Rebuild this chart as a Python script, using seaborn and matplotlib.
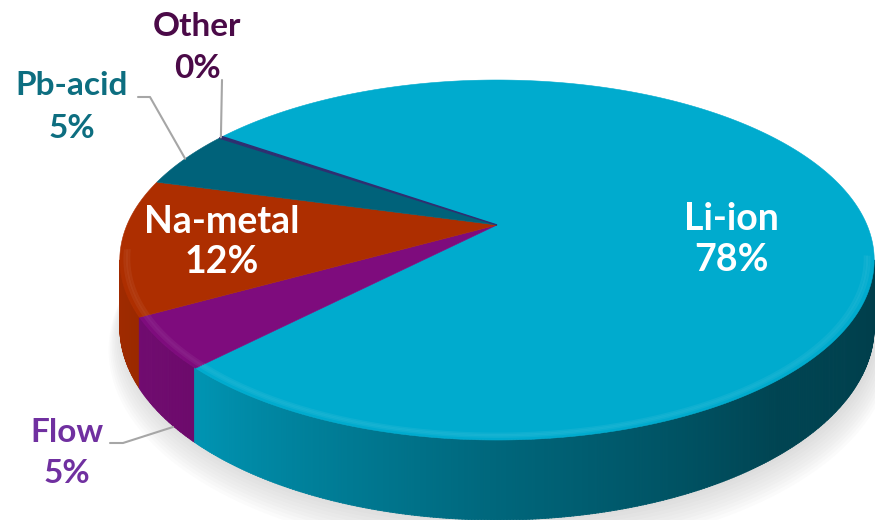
import numpy as np
import matplotlib
matplotlib.use("Agg")
import matplotlib.pyplot as plt
from matplotlib.collections import PolyCollection
from matplotlib.colors import to_rgb
import seaborn as sns

# ---- data (clockwise from the "Other"/"Li-ion" boundary) ----
categories = ["Li-ion", "Flow", "Na-metal", "Pb-acid", "Other"]
shares = [77.8, 4.6, 12.2, 5.2, 0.2]
top_colors = ["#00ABCE", "#7E0C7D", "#AD2E00", "#00627A", "#2E2F70"]
label_colors = ["#FFFFFF", "#7030A0", "#FFFFFF", "#0D6E80", "#4B0A48"]

sns.set_theme(style="white")
plt.rcParams["font.family"] = ["Lato", "DejaVu Sans"]

# ---- projection of a tilted disc (perspective) ----
CX, CY = 497, 225
A, B, K, E = 370.0, 173.2, 0.1945, 64.4
START = 145.5


def proj(theta_deg, r=1.0, z=0.0):
    t = np.radians(theta_deg)
    w = 1 + K * r * np.sin(t)
    X = A * r * np.cos(t) / w
    Y = (B * r * np.sin(t) + E * z) / w
    return CX + X, CY - Y


vals = np.array(shares, dtype=float)
spans = vals / vals.sum() * 360.0
cum = np.cumsum(spans)
ends = START - cum
starts = ends + spans

fig = plt.figure(figsize=(8.75, 5.2), dpi=100)
ax = fig.add_axes([0, 0, 1, 1])
ax.set_xlim(0, 875)
ax.set_ylim(520, 0)
ax.axis("off")

# ---- soft shadow ----
th_all = np.linspace(0, 360, 400)
for j in range(10):
    xs, ys = proj(th_all, 1.0 + 0.004 * j, -1.0 - 0.03 * j)
    ax.fill(xs + 3, ys + 2, color="#9A9A9A", alpha=0.035, lw=0, zorder=1)

# ---- side wall ----
th_left = 180 + np.degrees(np.arcsin(K))
th_right = 360 - np.degrees(np.arcsin(K))
grid = np.arange(th_left, th_right, 0.4)
shade_t = [191, 227, 270, 310, 349]
shade_f = [0.93, 0.86, 0.60, 0.40, 0.36]
polys, cols = [], []
for t0 in grid:
    t1 = min(t0 + 0.45, th_right)
    tm = (t0 + t1) / 2
    p = (START - tm) % 360
    idx = int(np.searchsorted(cum, p))
    idx = min(idx, len(categories) - 1)
    f = np.interp(tm, shade_t, shade_f)
    c = np.array(to_rgb(top_colors[idx])) * f
    x0, y0 = proj(t0, 1, 0)
    x1, y1 = proj(t1, 1, 0)
    x2, y2 = proj(t1, 1, -1)
    x3, y3 = proj(t0, 1, -1)
    polys.append([(x0, y0), (x1, y1), (x2, y2), (x3, y3)])
    cols.append(c)
pc = PolyCollection(polys, facecolors=cols, edgecolors=cols, linewidths=0.6, zorder=2)
ax.add_collection(pc)

# ---- top face ----
for i, cat in enumerate(categories):
    th = np.linspace(starts[i], ends[i], max(3, int(spans[i] * 2)))
    xs, ys = proj(th, 1, 0)
    xs = np.concatenate([[CX], xs])
    ys = np.concatenate([[CY], ys])
    lw = 1.0 if spans[i] < 2 else 0.4
    ax.fill(xs, ys, facecolor=top_colors[i], edgecolor=top_colors[i], lw=lw, zorder=3)

# ---- soft rim highlight on the front edge ----
for i, cat in enumerate(categories):
    lo, hi = ends[i] % 360, starts[i] % 360
    if hi < lo:
        hi += 360
    a0, a1 = max(lo, 188), min(hi, 350)
    if a1 > a0:
        th = np.linspace(a0, a1, 200)
        c = np.array(to_rgb(top_colors[i]))
        c = c + (1 - c) * 0.15
        for rr, al in [(0.988, 0.35), (0.982, 0.5), (0.976, 0.35)]:
            xs, ys = proj(th, rr, 0)
            ax.plot(xs, ys, color=c, lw=1.6, alpha=al, zorder=4, solid_capstyle="butt")

# ---- labels ----
pct = [f"{int(round(v))}%" for v in shares]
label_pos = {
    "Li-ion": ((731, 230), (731, 271), 27),
    "Na-metal": ((222, 233), (222, 273), 27),
    "Pb-acid": ((72, 95), (72, 138), 24),
    "Other": ((197, 36), (197, 78), 24),
    "Flow": ((67, 442), (67, 483), 24),
}
for i, cat in enumerate(categories):
    (x1, y1), (x2, y2), fs = label_pos[cat]
    ax.text(x1, y1, cat, ha="center", va="baseline", fontsize=fs,
            fontweight="bold", color=label_colors[i], zorder=6)
    ax.text(x2, y2, pct[i], ha="center", va="baseline", fontsize=fs,
            fontweight="bold", color=label_colors[i], zorder=6)

# ---- leader lines ----
mid = lambda i: (starts[i] + ends[i]) / 2
ox, oy = proj(mid(4), 1, 0)
ax.plot([222, ox], [80, oy], color="#A6A6A6", lw=1.5, zorder=5)
px, py = proj(mid(3), 1, 0)
ax.plot([138, 150, px], [97, 97, py], color="#A6A6A6", lw=1.5, zorder=5)
ax.plot([110, 123, 173], [443, 443, 427], color="#A6A6A6", lw=1.5, zorder=5)

fig.savefig("out.png", dpi=100)
